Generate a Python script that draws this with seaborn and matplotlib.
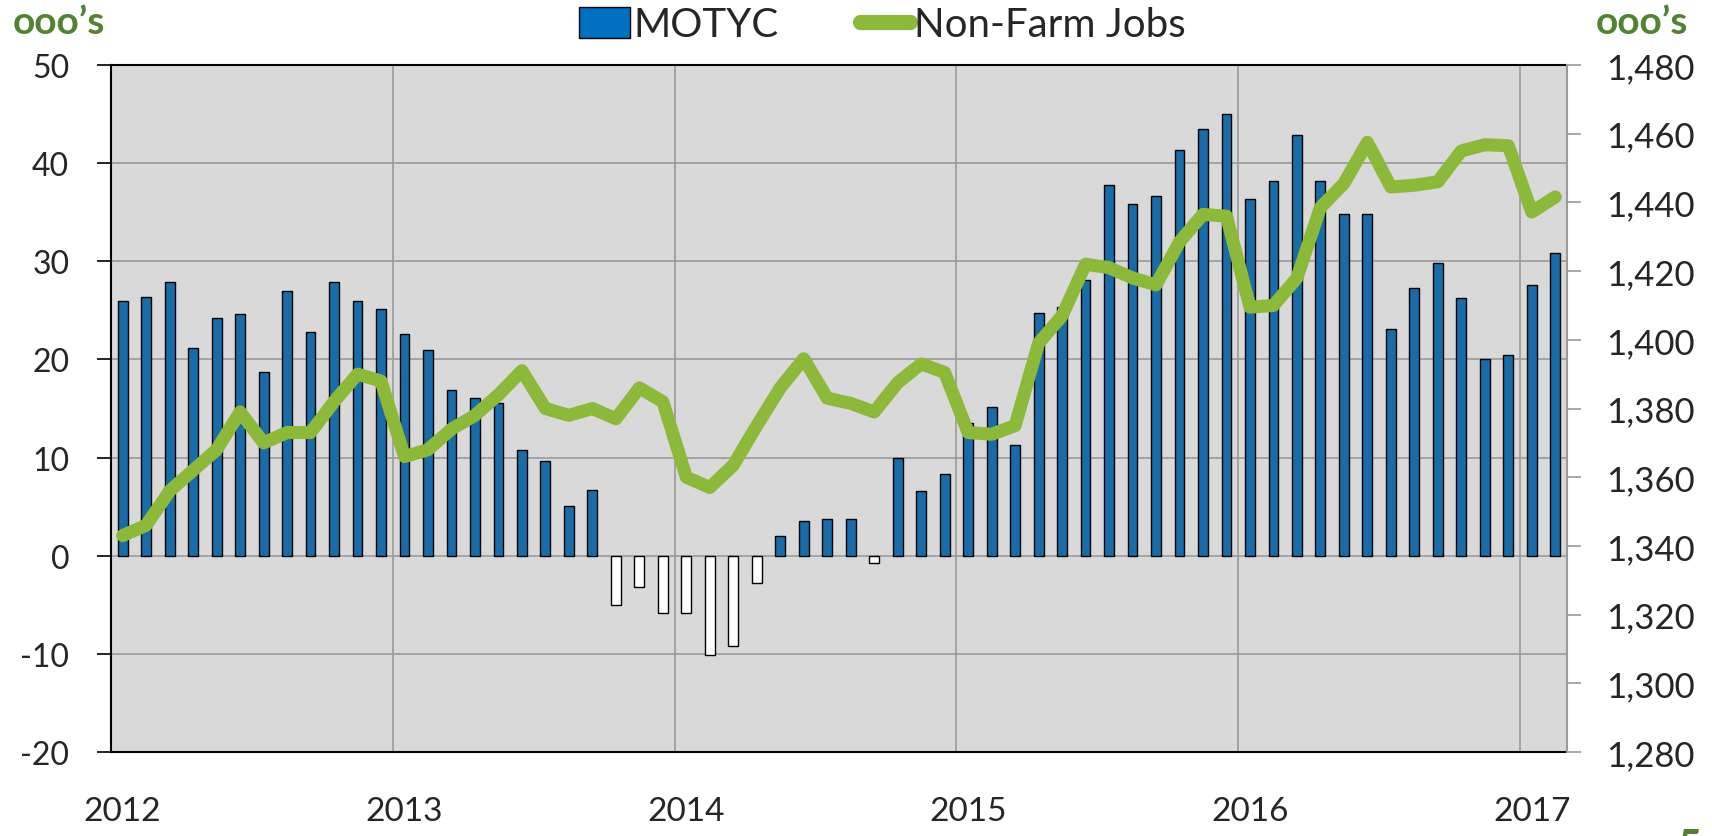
import numpy as np
import pandas as pd
import matplotlib
matplotlib.use('Agg')
import matplotlib.pyplot as plt
import seaborn as sns
from matplotlib.patches import Patch
from matplotlib.lines import Line2D

# Data (monthly, Jan 2012 - Feb 2017)
years = ['2012', '2013', '2014', '2015', '2016', '2017']

motyc = [26.0, 26.4, 27.9, 21.2, 24.2, 24.6, 18.7, 27.0, 22.8, 27.9, 26.0, 25.1,
         22.6, 21.0, 16.9, 16.1, 15.6, 10.8, 9.7, 5.1, 6.7, -5.0, -3.2, -5.8,
         -5.8, -10.1, -9.2, -2.8, 2.0, 3.5, 3.7, 3.7, -0.7, 10.0, 6.6, 8.3,
         13.5, 15.2, 11.3, 24.7, 25.3, 28.1, 37.8, 35.8, 36.7, 41.3, 43.5, 45.0,
         36.3, 38.2, 42.9, 38.2, 34.8, 34.8, 23.1, 27.3, 29.8, 26.3, 20.0, 20.5,
         27.6, 30.8]

jobs = [1343, 1346, 1356, 1362, 1368, 1379, 1370, 1373, 1373, 1382, 1390, 1388,
        1366, 1368, 1374, 1378, 1384, 1391, 1380, 1378, 1380, 1377, 1386, 1382,
        1360, 1357, 1363.5, 1375, 1386, 1394.5, 1383, 1381.5, 1379, 1387.5, 1393, 1390.5,
        1373, 1372.5, 1375, 1399, 1407, 1422, 1421, 1418, 1416, 1428.5, 1436.5, 1436,
        1409.5, 1410, 1418, 1438.5, 1445.5, 1457.5, 1444.5, 1445, 1446, 1455, 1456.8, 1456.5,
        1437.2, 1441.6]

blue = '#0070C0'
green = '#8DB93A'
dark_green = '#548235'
grid_grey = '#9A9A9A'

df = pd.DataFrame({'month': range(len(motyc)), 'motyc': motyc, 'jobs': jobs})
df['sign'] = np.where(df['motyc'] >= 0, 'pos', 'neg')

sns.set_style('white')
plt.rcParams['font.family'] = ['Lato', 'DejaVu Sans']
plt.rcParams['axes.unicode_minus'] = False

fig = plt.figure(figsize=(17.12, 8.37), dpi=100)
ax = fig.add_axes([0.0648, 0.1004, 0.8505, 0.8207])
ax.set_facecolor('#D9D9D9')

# MOTYC bars (negative months drawn white, like Excel's invert-if-negative)
sns.barplot(data=df, x='month', y='motyc', hue='sign',
            palette={'pos': blue, 'neg': 'white'}, dodge=False, width=0.42,
            edgecolor='black', linewidth=1, errorbar=None, legend=False, ax=ax)

ax.set_xlim(-0.5, len(motyc) - 0.5)
ax.set_ylim(-20, 50)
ax.set_yticks(range(-20, 51, 10))
ax.set_xticks(range(0, len(motyc), 12))
ax.set_xticklabels(years)
ax.set_xticks([m - 0.5 for m in range(12, len(motyc), 12)], minor=True)
ax.set_xlabel('')
ax.set_ylabel('')
ax.set_axisbelow(True)
ax.grid(axis='y', which='major', color=grid_grey, lw=1.2)
ax.grid(axis='x', which='minor', color=grid_grey, lw=1.2)
ax.grid(axis='x', which='major', visible=False)

ax.tick_params(axis='x', which='both', length=0, labelsize=24, pad=32)
ax.tick_params(axis='y', length=10, width=1.2, color='black', labelsize=23, pad=20)
for side in ['left', 'bottom', 'top']:
    ax.spines[side].set_color('black')
    ax.spines[side].set_linewidth(1.5)
ax.spines['right'].set_visible(False)

# Non-farm jobs line on the right axis
ax2 = ax.twinx()
sns.lineplot(data=df, x='month', y='jobs', color=green, linewidth=9.4,
             solid_joinstyle='round', solid_capstyle='round', ax=ax2)
ax2.set_ylim(1280, 1480)
ax2.set_yticks(range(1280, 1481, 20))
ax2.set_yticklabels([f'{v:,}' for v in range(1280, 1481, 20)])
ax2.set_ylabel('')
ax2.tick_params(axis='y', length=10, width=1.2, color=grid_grey, labelsize=25, pad=18)
for side in ['left', 'bottom', 'top']:
    ax2.spines[side].set_visible(False)
ax2.spines['right'].set_color(grid_grey)
ax2.spines['right'].set_linewidth(1.5)

# legend at the top
handles = [Patch(facecolor=blue, edgecolor='black', linewidth=1),
           Line2D([0], [0], color=green, lw=11, solid_capstyle='round')]
fig.legend(handles, ['MOTYC', 'Non-Farm Jobs'], loc='center',
           bbox_to_anchor=(0.5155, 0.969), ncol=2, frameon=False, fontsize=29,
           handlelength=1.25, handleheight=0.8, handletextpad=0.1, columnspacing=2.0)

# unit labels
fig.text(13 / 1712, 1 - 22 / 837, 'ooo’s', color=dark_green, fontweight='bold',
         fontsize=28, ha='left', va='center')
fig.text(1596 / 1712, 1 - 22 / 837, 'ooo’s', color=dark_green, fontweight='bold',
         fontsize=28, ha='left', va='center')
# clipped fragment at the bottom-right corner
fig.text(1677 / 1712, 1 - 860 / 837, '5', color=dark_green, fontweight='bold',
         fontsize=30, ha='left', va='baseline')

fig.savefig('out.png', dpi=100)
